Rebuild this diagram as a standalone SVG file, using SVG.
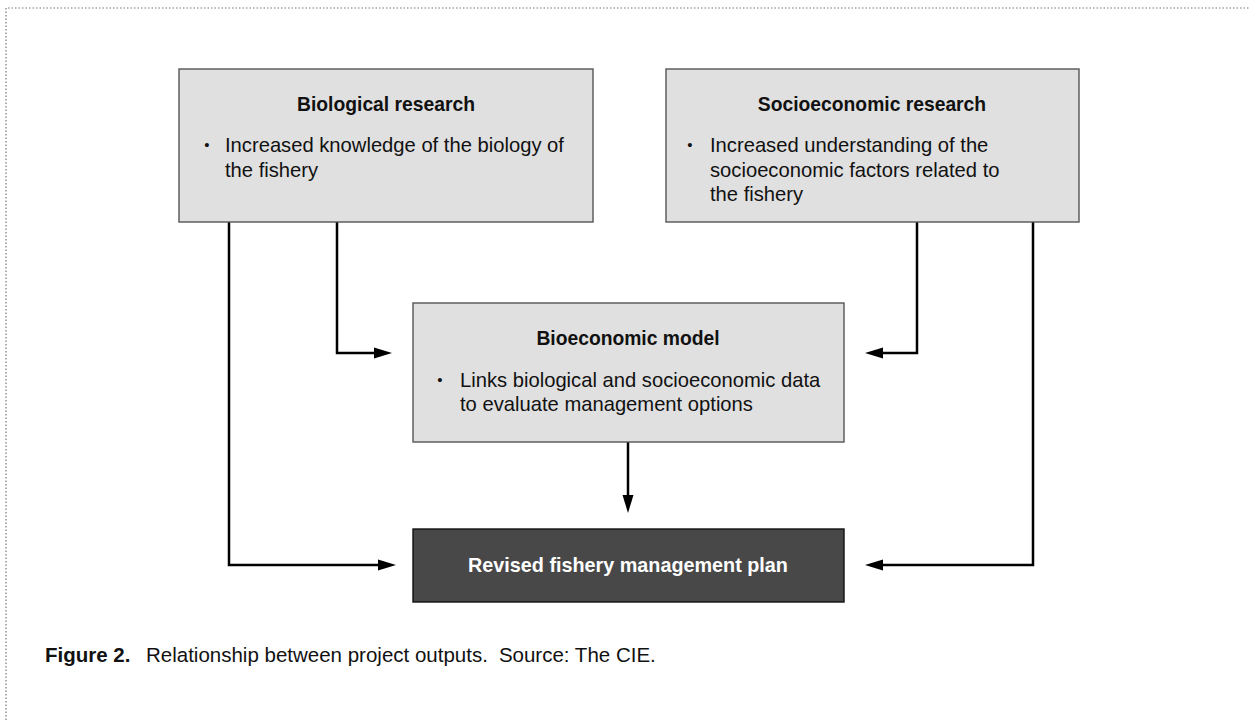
<svg xmlns="http://www.w3.org/2000/svg" width="1250" height="720" viewBox="0 0 1250 720">
<defs>
<style>
.box{fill:#e0e0e0;stroke:#555;stroke-width:1.4}
.dark{fill:#484848;stroke:#111;stroke-width:1.4}
.title{font-family:"Liberation Sans",Arial,sans-serif;font-weight:bold;font-size:19.3px;fill:#111;text-anchor:middle}
.body{font-family:"Liberation Sans",Arial,sans-serif;font-size:20.2px;fill:#111}
.bul{font-family:"Liberation Sans",Arial,sans-serif;font-size:15px;fill:#111;text-anchor:middle}
.dtitle{font-family:"Liberation Sans",Arial,sans-serif;font-weight:bold;font-size:19.8px;fill:#fff;text-anchor:middle}
.conn{fill:none;stroke:#000;stroke-width:2.5}
.cap{font-family:"Liberation Sans",Arial,sans-serif;font-size:20.5px;fill:#111}
.border{fill:none;stroke:#777;stroke-width:1.2;stroke-dasharray:1.5 2}
</style>
<marker id="arr" markerUnits="userSpaceOnUse" markerWidth="18" markerHeight="12" refX="8" refY="6" orient="auto">
<path d="M0,0.5 L18,6 L0,11.5 Z" fill="#000"/>
</marker>
</defs>
<rect width="1250" height="720" fill="#fff"/>
<path class="border" d="M6,720 V8 H1250"/>

<g id="connectors">
<path class="conn" d="M229,222 V565 H386" marker-end="url(#arr)"/>
<path class="conn" d="M337,222 V353 H382" marker-end="url(#arr)"/>
<path class="conn" d="M917,222 V353 H875" marker-end="url(#arr)"/>
<path class="conn" d="M1033,222 V565 H875" marker-end="url(#arr)"/>
<path class="conn" d="M628,442 V503" marker-end="url(#arr)"/>
</g>

<g id="biological">
<rect class="box" x="179" y="69" width="414" height="153"/>
<text class="title" x="386" y="111">Biological research</text>
<text class="bul" x="207" y="150">•</text>
<text class="body" x="225" y="152">Increased knowledge of the biology of</text>
<text class="body" x="225" y="177">the fishery</text>
</g>

<g id="socioeconomic">
<rect class="box" x="666" y="69" width="413" height="153"/>
<text class="title" x="872" y="111">Socioeconomic research</text>
<text class="bul" x="690" y="150">•</text>
<text class="body" x="710" y="152">Increased understanding of the</text>
<text class="body" x="710" y="177">socioeconomic factors related to</text>
<text class="body" x="710" y="201">the fishery</text>
</g>

<g id="bioeconomic">
<rect class="box" x="413" y="303" width="431" height="139"/>
<text class="title" x="628" y="345">Bioeconomic model</text>
<text class="bul" x="440" y="385">•</text>
<text class="body" x="460" y="387">Links biological and socioeconomic data</text>
<text class="body" x="460" y="411">to evaluate management options</text>
</g>

<g id="revised">
<rect class="dark" x="413" y="529" width="431" height="73"/>
<text class="dtitle" x="628" y="572">Revised fishery management plan</text>
</g>

<g id="caption">
<text class="cap" x="45" y="662"><tspan font-weight="bold">Figure 2.</tspan><tspan x="146">Relationship between project outputs.</tspan><tspan dx="11">Source: The CIE.</tspan></text>
</g>
</svg>
